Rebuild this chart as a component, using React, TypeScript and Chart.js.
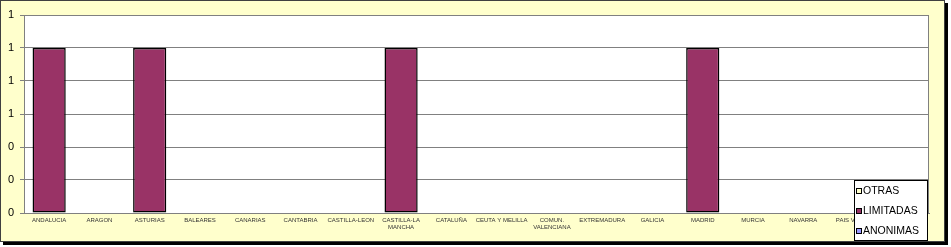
import React, { useEffect, useRef } from "react";
import { Chart, registerables } from "chart.js";

Chart.register(...registerables);

const categories: (string | string[])[] = [
  "ANDALUCIA", "ARAGON", "ASTURIAS", "BALEARES", "CANARIAS", "CANTABRIA",
  "CASTILLA-LEON", ["CASTILLA-LA", "MANCHA"], "CATALUÑA", "CEUTA Y MELILLA",
  ["COMUN.", "VALENCIANA"], "EXTREMADURA", "GALICIA", "MADRID", "MURCIA",
  "NAVARRA", "PAIS VASCO", "LA RIOJA",
];
const anonimas = [0, 0, 0, 0, 0, 0, 0, 0, 0, 0, 0, 0, 0, 0, 0, 0, 0, 0];
const limitadas = [1, 0, 1, 0, 0, 0, 0, 1, 0, 0, 0, 0, 0, 1, 0, 0, 0, 0];
const otras = [0, 0, 0, 0, 0, 0, 0, 0, 0, 0, 0, 0, 0, 0, 0, 0, 0, 0];
const yTicks = [0, 0.2, 0.4, 0.6, 0.8, 1.0, 1.2];

const frame = {
  id: "frame",
  beforeDraw(chart: any) {
    const { ctx, chartArea: a } = chart;
    ctx.save();
    ctx.fillStyle = "#000";
    ctx.fillRect(3, 3, 945, 242);
    ctx.fillStyle = "#FFFFCC";
    ctx.fillRect(0, 0, 945, 242);
    ctx.strokeStyle = "#404040";
    ctx.lineWidth = 1;
    ctx.strokeRect(0.5, 0.5, 944, 241);
    ctx.fillStyle = "#FFFFFF";
    ctx.fillRect(a.left, a.top, a.right - a.left, a.bottom - a.top);
    ctx.restore();
  },
  afterDatasetsDraw(chart: any) {
    const { ctx, chartArea: a } = chart;
    ctx.save();
    ctx.strokeStyle = "#808080";
    ctx.lineWidth = 1;
    ctx.beginPath();
    ctx.moveTo(a.left, a.top + 0.5);
    ctx.lineTo(a.right - 0.5, a.top + 0.5);
    ctx.lineTo(a.right - 0.5, a.bottom);
    ctx.stroke();
    // legend
    const lx = 854, ly = 180, lw = 74, lh = 61;
    ctx.fillStyle = "#FFFFFF";
    ctx.fillRect(lx, ly, lw, lh);
    ctx.strokeStyle = "#000";
    ctx.strokeRect(lx + 0.5, ly + 0.5, lw - 1, lh - 1);
    const ds = chart.data.datasets.slice().reverse();
    ctx.font = "10.5px 'Liberation Sans', Arial, sans-serif";
    ctx.textBaseline = "middle";
    ds.forEach((d: any, i: number) => {
      const cy = ly + 10.5 + i * 20.3;
      ctx.fillStyle = d.backgroundColor;
      ctx.fillRect(856, Math.round(cy) - 3, 6, 6);
      ctx.strokeStyle = "#000";
      ctx.strokeRect(856.5, Math.round(cy) - 2.5, 5, 5);
      ctx.fillStyle = "#000";
      ctx.fillText(d.label, 863, cy + 0.5);
    });
    ctx.restore();
  },
};

const bw = (c: any) => (c.raw ? 1.5 : 0);

export default function App() {
  const ref = useRef<HTMLCanvasElement>(null);
  useEffect(() => {
    const chart = new Chart(ref.current!, {
      type: "bar",
      data: {
        labels: categories,
        datasets: [
          { label: "ANONIMAS", data: anonimas, backgroundColor: "#9999FF", borderColor: "#000", borderWidth: bw },
          { label: "LIMITADAS", data: limitadas, backgroundColor: "#993366", borderColor: "#000", borderWidth: bw },
          { label: "OTRAS", data: otras, backgroundColor: "#FFFFCC", borderColor: "#000", borderWidth: bw },
        ],
      },
      options: {
        animation: false,
        responsive: false,
        maintainAspectRatio: false,
        layout: { padding: { left: 0, top: 15, right: 22, bottom: 0 } },
        datasets: { bar: { categoryPercentage: 1, barPercentage: 0.66, borderSkipped: false } },
        plugins: { legend: { display: false }, tooltip: { enabled: false } },
        scales: {
          x: {
            stacked: true,
            grid: { display: false, drawTicks: false },
            border: { display: true, color: "#808080" },
            ticks: {
              autoSkip: false,
              maxRotation: 0,
              minRotation: 0,
              padding: 4,
              color: "#333",
              font: { family: "'Liberation Sans', Arial, sans-serif", size: 6 },
            },
            afterFit: (s: any) => { s.height = 34; },
          },
          y: {
            stacked: true,
            min: 0,
            max: 1.2,
            afterBuildTicks: (s: any) => { s.ticks = yTicks.map((v) => ({ value: v })); },
            grid: { color: "#808080", tickLength: 4, tickColor: "#808080" },
            border: { display: true, color: "#808080" },
            ticks: {
              padding: 6,
              color: "#000",
              font: { family: "'Liberation Sans', Arial, sans-serif", size: 11 },
              callback: (v: any) => String(Math.round(Number(v))),
            },
            afterFit: (s: any) => { s.width = 24; },
          },
        },
      },
      plugins: [frame],
    });
    return () => chart.destroy();
  }, []);
  return (
    <div style={{ position: "fixed", left: 0, top: 0, width: 951, height: 247 }}>
      <canvas ref={ref} width={951} height={247} />
    </div>
  );
}
